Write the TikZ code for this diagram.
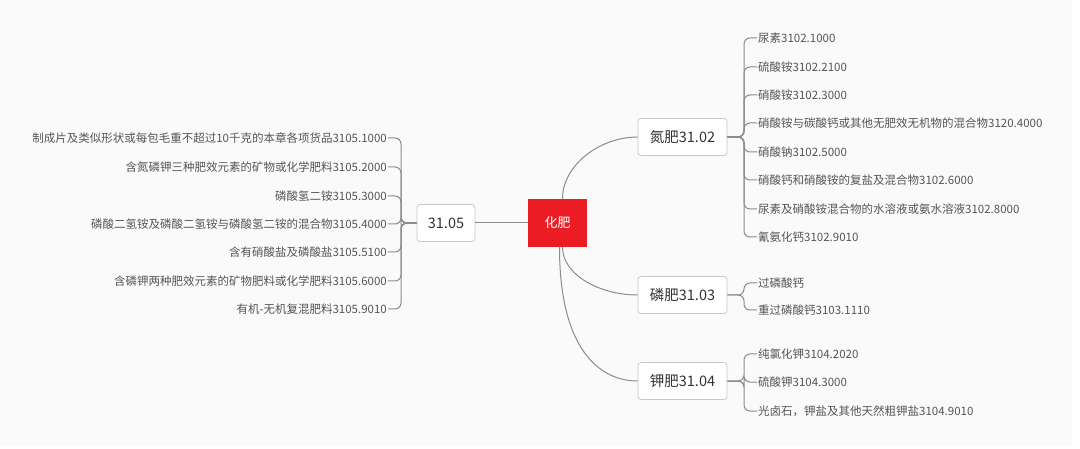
\documentclass[tikz,border=0pt]{standalone}
\usepackage{fontspec}
\setmainfont{Noto Sans CJK SC}
\definecolor{bgc}{HTML}{FAFAFA}
\definecolor{linec}{HTML}{8C8C8C}
\definecolor{boxc}{HTML}{C8C8C8}
\definecolor{leafc}{HTML}{555555}
\definecolor{mainc}{HTML}{333333}
\definecolor{rootc}{HTML}{EC1C24}
\begin{document}
\begin{tikzpicture}[x=1pt,y=-1pt,
  conn/.style={draw=linec,line width=1pt},
  br/.style={conn,rounded corners=6pt},
  mainbox/.style={draw=boxc,fill=white,rounded corners=3pt,line width=0.8pt,text=mainc,
    font=\fontsize{14.5}{16}\selectfont,inner sep=0pt,minimum height=37pt,minimum width=89pt},
  rootbox/.style={fill=rootc,text=white,font=\fontsize{13}{15}\selectfont,inner sep=0pt,
    minimum width=59pt,minimum height=48pt},
  rleaf/.style={anchor=west,text=leafc,font=\fontsize{11.5}{13}\selectfont,inner sep=1pt},
  lleaf/.style={anchor=east,text=leafc,font=\fontsize{11.5}{13}\selectfont,inner sep=1pt}]
\useasboundingbox (0,0) rectangle (1080,449);
\fill[white] (0,0) rectangle (1080,449);
\fill[bgc] (0,0) rectangle (1072,446);

% main nodes
\node[rootbox] (root) at (557.5,223) {化肥};
\node[mainbox,minimum width=58pt] (n5) at (446,223) {31.05};
\node[mainbox] (n2) at (682.5,137) {氮肥31.02};
\node[mainbox] (n3) at (682.5,295) {磷肥31.03};
\node[mainbox] (n4) at (682.5,381) {钾肥31.04};

% root connectors
\draw[conn] (n5.east) -- (root.west);
\draw[conn] ([xshift=5pt]root.north) .. controls ([xshift=5pt]root.north |- 0,165) and (600,137) .. (n2.west);
\draw[conn] ([xshift=5pt]root.south) .. controls ([xshift=5pt]root.south |- 0,275) and (600,295) .. (n3.west);
\draw[conn] ([xshift=2pt]root.south) .. controls ([xshift=2pt]root.south |- 0,350) and (600,381) .. (n4.west);

% nitrogen leaves
\node[rleaf] (a1) at (757,38) {尿素3102.1000};
\node[rleaf] (a2) at (757,67) {硫酸铵3102.2100};
\node[rleaf] (a3) at (757,95) {硝酸铵3102.3000};
\node[rleaf] (a4) at (757,123) {硝酸铵与碳酸钙或其他无肥效无机物的混合物3120.4000};
\node[rleaf] (a5) at (757,152) {硝酸钠3102.5000};
\node[rleaf] (a6) at (757,180) {硝酸钙和硝酸铵的复盐及混合物3102.6000};
\node[rleaf] (a7) at (757,209) {尿素及硝酸铵混合物的水溶液或氨水溶液3102.8000};
\node[rleaf] (a8) at (757,237) {氰氨化钙3102.9010};
\foreach \i in {1,...,8}{\draw[br] (n2.east) -- (744,137) |- (a\i.west);}

% phosphate leaves
\node[rleaf] (b1) at (757,283) {过磷酸钙};
\node[rleaf] (b2) at (757,310) {重过磷酸钙3103.1110};
\foreach \i in {1,2}{\draw[br] (n3.east) -- (744,295) |- (b\i.west);}

% potash leaves
\node[rleaf] (c1) at (757,354) {纯氯化钾3104.2020};
\node[rleaf] (c2) at (757,382) {硫酸钾3104.3000};
\node[rleaf] (c3) at (757,411) {光卤石，钾盐及其他天然粗钾盐3104.9010};
\foreach \i in {1,2,3}{\draw[br] (n4.east) -- (744,381) |- (c\i.west);}

% compound leaves
\node[lleaf] (d1) at (388,138) {制成片及类似形状或每包毛重不超过10千克的本章各项货品3105.1000};
\node[lleaf] (d2) at (388,167) {含氮磷钾三种肥效元素的矿物或化学肥料3105.2000};
\node[lleaf] (d3) at (388,196) {磷酸氢二铵3105.3000};
\node[lleaf] (d4) at (388,224) {磷酸二氢铵及磷酸二氢铵与磷酸氢二铵的混合物3105.4000};
\node[lleaf] (d5) at (388,252) {含有硝酸盐及磷酸盐3105.5100};
\node[lleaf] (d6) at (388,281) {含磷钾两种肥效元素的矿物肥料或化学肥料3105.6000};
\node[lleaf] (d7) at (388,309) {有机-无机复混肥料3105.9010};
\foreach \i in {1,...,7}{\draw[br] (n5.west) -- (401,223) |- (d\i.east);}
\end{tikzpicture}
\end{document}
